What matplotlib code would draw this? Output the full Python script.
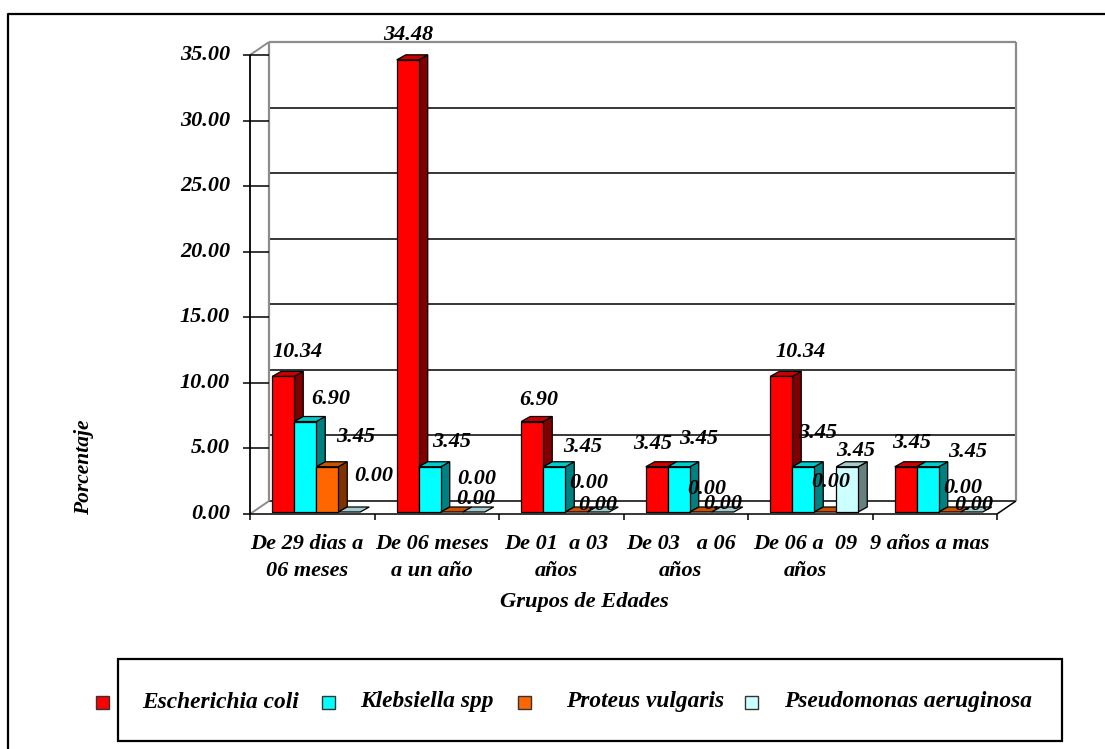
import matplotlib
matplotlib.use("Agg")
import matplotlib.pyplot as plt
from matplotlib.patches import Polygon, Rectangle
from matplotlib.lines import Line2D

# ---- data ----
categories = ["De 29 dias a\n06 meses", "De 06 meses\na un año", "De 01  a 03\naños",
              "De 03   a 06\naños", "De 06 a  09\naños", "9 años a mas"]
series_names = ["Escherichia coli", "Klebsiella spp", "Proteus vulgaris", "Pseudomonas aeruginosa"]
e_coli = [10.34, 34.48, 6.90, 3.45, 10.34, 3.45]
klebsiella = [6.90, 3.45, 3.45, 3.45, 3.45, 3.45]
proteus = [3.45, 0.00, 0.00, 0.00, 0.00, 0.00]
pseudomonas = [0.00, 0.00, 0.00, 0.00, 3.45, 0.00]
y_ticks = [0, 5, 10, 15, 20, 25, 30, 35]
x_title = "Grupos de Edades"
y_title = "Porcentaje"

series = [e_coli, klebsiella, proteus, pseudomonas]

# ---- styling ----
front_col = ["#FF0000", "#00FFFF", "#FF6600", "#CCFFFF"]
top_col = ["#CC0000", "#00CCCC", "#CC5200", "#A3CCCC"]
side_col = ["#800000", "#008080", "#803300", "#668080"]

# value-label placement (pixels right / up from the top-centre of each bar face)
label_offsets = [
    [(14, 24), (25, 23), (28, 30), (24, 36)],
    [(0, 25), (22, 25), (25, 33), (2, 13)],
    [(6, 22), (28, 20), (12, 29), (-1, 7)],
    [(-4, 23), (20, 28), (6, 23), (0, 8)],
    [(19, 24), (14, 34), (5, 30), (8, 16)],
    [(6, 24), (40, 15), (13, 24), (2, 7)],
]

W, H, DPI = 1105, 749, 100
FONT = dict(family="Liberation Serif", weight="bold", style="italic")

fig = plt.figure(figsize=(W / DPI, H / DPI), dpi=DPI)
fig.patch.set_facecolor("white")


def fpos(x, y):
    """figure pixel (from top-left) -> figure fraction"""
    return x / W, 1 - y / H


# plot region: front face of the 3-D box
left, right, top, bottom = 250, 997, 55, 514
ax = fig.add_axes([left / W, (H - bottom) / H, (right - left) / W, (bottom - top) / H])
ax.set_xlim(0, len(categories))
ax.set_ylim(0, 35)
ax.axis("off")


def px(dx, dy):
    inv = ax.transData.inverted()
    (x0, y0), (x1, y1) = inv.transform([(0, 0), (dx, dy)])
    return x1 - x0, y1 - y0


ncat = len(categories)
DX, DY = px(19, 13)          # depth of the walls
GRAY = "#8C8C8C"

def seg(xs, ys, color, lw, z=1):
    ax.add_line(Line2D(xs, ys, color=color, lw=lw, zorder=z, clip_on=False,
                       solid_capstyle="butt"))

# back wall gridlines
for v in y_ticks[:-1]:
    seg([DX, ncat + DX], [v + DY, v + DY], "black", 1.1)
# back wall outline
seg([DX, DX], [DY, 35 + DY], GRAY, 1.6)
seg([ncat + DX, ncat + DX], [DY, 35 + DY], GRAY, 1.6)
seg([DX, ncat + DX], [35 + DY, 35 + DY], GRAY, 1.6)
# side wall / floor edges
seg([0, DX], [35, 35 + DY], GRAY, 1.4)
seg([0, DX], [0, DY], GRAY, 1.4)
seg([ncat, ncat + DX], [0, DY], "black", 1.1)
seg([0, ncat], [0, 0], "black", 1.1, z=2)
# front value axis
seg([0, 0], [0, 35], "black", 1.3, z=2)
tx_out, _ = px(-7, 0)
for v in y_ticks:
    seg([tx_out, DX if v > 0 else 0], [v, v], "black", 1.1, z=2)
    ax.annotate(f"{v:.2f}", xy=(0, v), xytext=(-20 * 0.72, 0), textcoords="offset points",
                ha="right", va="center", fontsize=16, **FONT)
# category ticks
_, tdy = px(0, -6)
for i in range(ncat + 1):
    seg([i, i], [0, tdy], "black", 1.1, z=2)
for i, lab in enumerate(categories):
    ax.annotate(lab, xy=(i + 0.5, 0), xytext=(-5 * 0.72, -20 * 0.72), textcoords="offset points",
                ha="center", va="top", fontsize=16, linespacing=1.45, **FONT)

# bars
w, _ = px(22, 0)
BX, BY = px(4, 2)
bdx, bdy = px(9, 5)
z = 10
for i in range(ncat):
    for j, vals in enumerate(series):
        h = vals[i]
        x0 = i + 0.5 + (j - 2) * w + BX
        y0 = BY
        if h > 0:
            ax.add_patch(Polygon([(x0 + w, y0), (x0 + w + bdx, y0 + bdy),
                                  (x0 + w + bdx, y0 + h + bdy), (x0 + w, y0 + h)],
                                 closed=True, fc=side_col[j], ec="black", lw=0.9,
                                 zorder=z, clip_on=False))
        ax.add_patch(Polygon([(x0, y0 + h), (x0 + w, y0 + h),
                              (x0 + w + bdx, y0 + h + bdy), (x0 + bdx, y0 + h + bdy)],
                             closed=True, fc=top_col[j], ec="black", lw=0.9,
                             zorder=z + 1, clip_on=False))
        if h > 0:
            ax.bar(x0, h, width=w, bottom=y0, align="edge", color=front_col[j],
                   edgecolor="black", linewidth=0.9, zorder=z + 2, clip_on=False)
        z += 3

# value labels
for i in range(ncat):
    for j, vals in enumerate(series):
        h = vals[i]
        cx = i + 0.5 + (j - 2) * w + BX + w / 2
        dx, dy = label_offsets[i][j]
        ax.annotate(f"{h:.2f}", xy=(cx, BY + h), xytext=(dx * 0.72, dy * 0.72),
                    textcoords="offset points", ha="center", va="center",
                    fontsize=16, zorder=200, **FONT)

# axis titles
fig.text(*fpos(584, 602), x_title, ha="center", va="center", fontsize=16.2, **FONT)
fig.text(*fpos(84, 467), y_title, ha="center", va="center", rotation=90, fontsize=15.5, **FONT)

# outer frame (left and top edges)
fig.add_artist(Line2D([8 / W, 8 / W, 1.0], [0.0, 1 - 14 / H, 1 - 14 / H],
                      transform=fig.transFigure, color="black", lw=1.6))

# legend
lx0, ly0, lx1, ly1 = 118, 659, 1062, 741
fig.add_artist(Rectangle(fpos(lx0, ly1), (lx1 - lx0) / W, (ly1 - ly0) / H,
                         transform=fig.transFigure, fill=False, ec="black", lw=1.6))
marker_x = [102, 328, 524, 751]
text_x = [142, 360, 566, 784]
ly = 702
for j, name in enumerate(series_names):
    fig.add_artist(Rectangle(fpos(marker_x[j] - 6.5, ly + 6.5), 13 / W, 13 / H,
                             transform=fig.transFigure, fc=front_col[j], ec="#333333", lw=1.0))
    fig.text(*fpos(text_x[j], ly), name, ha="left", va="center", fontsize=16.8, **FONT)

fig.savefig("out.png", dpi=DPI)
